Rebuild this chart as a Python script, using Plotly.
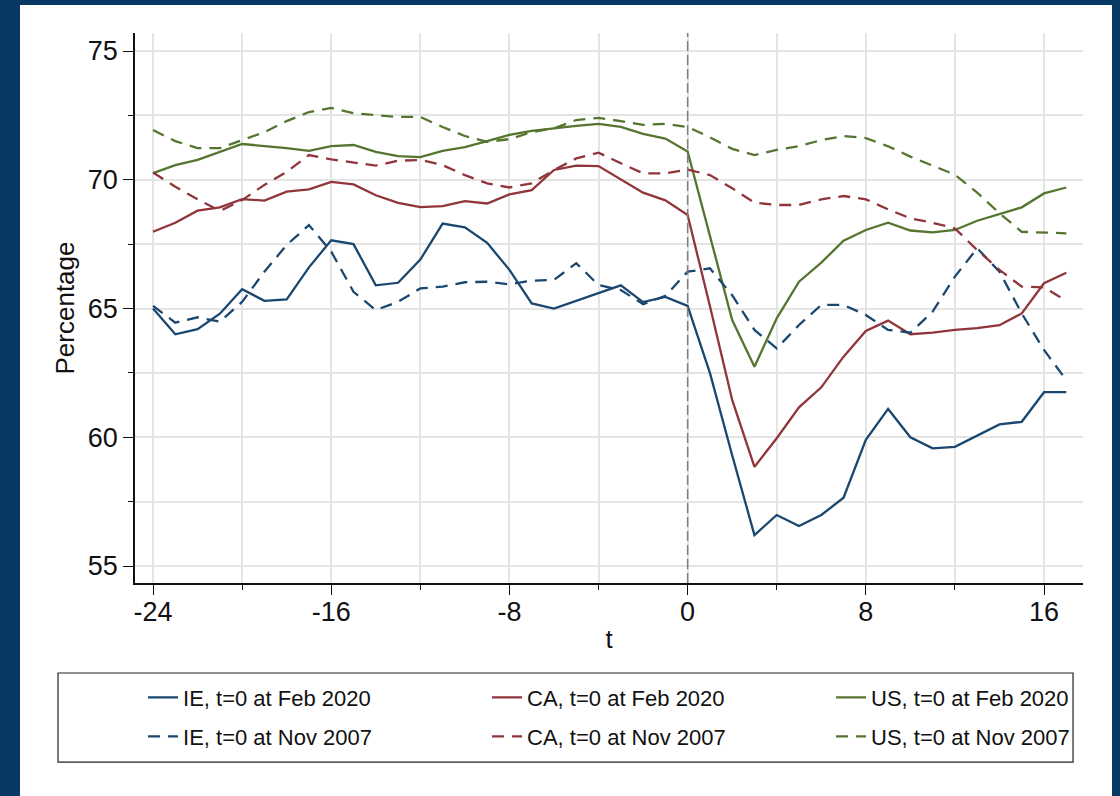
import plotly.graph_objects as go

t = list(range(-24, 18))

ie_feb2020 = [65.0, 64.0, 64.2, 64.8, 65.75, 65.3, 65.35, 66.6, 67.65, 67.5, 65.9, 66.0, 66.9, 68.3,
              68.15, 67.55, 66.5, 65.2, 65.0, 65.3, 65.6, 65.9, 65.25, 65.45, 65.1,
              62.5, 59.3, 56.2, 56.98, 56.55, 56.98, 57.65, 59.9, 61.1, 60.0, 59.57, 59.63, 60.05,
              60.5, 60.6, 61.75, 61.75]
ca_feb2020 = [67.98, 68.33, 68.8, 68.93, 69.25, 69.19, 69.54, 69.63, 69.92, 69.82, 69.4, 69.1, 68.94,
              68.98, 69.17, 69.08, 69.43, 69.6, 70.38, 70.55, 70.53, 70.02, 69.5, 69.2, 68.63,
              65.1, 61.45, 58.85, 59.96, 61.16, 61.94, 63.13, 64.13, 64.53, 64.0, 64.06, 64.17,
              64.24, 64.35, 64.81, 65.98, 66.39]
us_feb2020 = [70.26, 70.57, 70.77, 71.08, 71.39, 71.31, 71.23, 71.12, 71.31, 71.35, 71.08, 70.92,
              70.88, 71.12, 71.27, 71.5, 71.74, 71.9, 72.0, 72.09, 72.17, 72.05, 71.78, 71.6, 71.1,
              67.85, 64.55, 62.74, 64.62, 66.04, 66.78, 67.63, 68.05, 68.33, 68.03, 67.96, 68.05,
              68.41, 68.67, 68.93, 69.47, 69.7]
ie_nov2007 = [65.1, 64.45, 64.66, 64.49, 65.26, 66.43, 67.47, 68.24, 67.21, 65.65, 64.94, 65.26,
              65.78, 65.85, 66.02, 66.04, 65.94, 66.08, 66.11, 66.76, 65.91, 65.72, 65.17, 65.49,
              66.43, 66.56, 65.52, 64.17, 63.45, 64.36, 65.14, 65.14, 64.75, 64.17, 64.06, 64.88,
              66.24, 67.34, 66.43, 64.81, 63.39, 62.22]
ca_nov2007 = [70.28, 69.73, 69.24, 68.79, 69.21, 69.8, 70.31, 70.96, 70.79, 70.66, 70.55, 70.74,
              70.77, 70.57, 70.18, 69.86, 69.7, 69.86, 70.38, 70.83, 71.05, 70.64, 70.25, 70.25,
              70.4, 70.18, 69.67, 69.11, 69.02, 69.02, 69.24, 69.37, 69.24, 68.85, 68.5, 68.33,
              68.11, 67.27, 66.5, 65.85, 65.82, 65.3]
us_nov2007 = [71.93, 71.5, 71.23, 71.23, 71.54, 71.85, 72.28, 72.63, 72.79, 72.59, 72.51, 72.44,
              72.44, 72.05, 71.7, 71.47, 71.58, 71.85, 72.0, 72.32, 72.4, 72.28, 72.13, 72.17, 72.05,
              71.65, 71.2, 70.96, 71.16, 71.31, 71.54, 71.7, 71.62, 71.3, 70.9, 70.55, 70.2, 69.5,
              68.7, 67.98, 67.94, 67.92]

names_feb = ["IE, t=0 at Feb 2020", "CA, t=0 at Feb 2020", "US, t=0 at Feb 2020"]
names_nov = ["IE, t=0 at Nov 2007", "CA, t=0 at Nov 2007", "US, t=0 at Nov 2007"]
colors = ["#1a476f", "#90353b", "#55752f"]
event_t = 0

x_ticks = [-24, -16, -8, 0, 8, 16]
x_tick_labels = ["-24", "-16", "-8", "0", "8", "16"]
y_ticks = [55, 60, 65, 70, 75]
y_tick_labels = ["55", "60", "65", "70", "75"]

FONT = "Liberation Sans, Arial, sans-serif"
NAVY = "#083864"

fig = go.Figure()
for name, ys, c in zip(names_feb, [ie_feb2020, ca_feb2020, us_feb2020], colors):
    fig.add_trace(go.Scatter(x=t, y=ys, mode="lines", name=name, legend="legend",
                             line=dict(color=c, width=2.3)))
for name, ys, c in zip(names_nov, [ie_nov2007, ca_nov2007, us_nov2007], colors):
    fig.add_trace(go.Scatter(x=t, y=ys, mode="lines", name=name, legend="legend2",
                             line=dict(color=c, width=2.3, dash="12px,8px")))

fig.add_shape(type="line", xref="x", yref="paper", x0=event_t, x1=event_t, y0=0, y1=1,
              line=dict(color="#7f7f7f", width=1.5, dash="10px,4px"), layer="above")

# white graph region over navy page background
fig.add_shape(type="rect", xref="paper", yref="paper", x0=-0.1213, x1=1.0306, y0=-0.45, y1=1.0509,
              fillcolor="white", line=dict(width=0), layer="below")
# legend frame
fig.add_shape(type="rect", xref="paper", yref="paper", x0=-0.0812, x1=0.9895, y0=-0.3255, y1=-0.1636,
              fillcolor="rgba(0,0,0,0)", line=dict(color="#222222", width=1.2), layer="above")

legend_common = dict(orientation="h", xanchor="left", yanchor="middle", bgcolor="rgba(0,0,0,0)",
                     borderwidth=0, entrywidth=290, entrywidthmode="pixels", indentation=9,
                     font=dict(family=FONT, size=22, color="#111111"))

fig.update_layout(
    width=1120, height=796,
    paper_bgcolor=NAVY, plot_bgcolor="white",
    margin=dict(l=135, r=37, t=33, b=213, autoexpand=False),
    font=dict(family=FONT, color="#111111"),
    legend=dict(x=-0.001, y=-0.2085, **legend_common),
    legend2=dict(x=-0.001, y=-0.2793, **legend_common),
    xaxis=dict(range=[-24.81, 17.75], tickvals=x_ticks, ticktext=x_tick_labels, ticks="outside",
               ticklen=10, tickwidth=1.3, ticklabelstandoff=-6,
               tickcolor="#111111", showline=True, linecolor="#111111", linewidth=1.5,
               showgrid=True, gridcolor="#e4e4e4", gridwidth=1.5, zeroline=False,
               minor=dict(dtick=4, tick0=0, ticks="outside", ticklen=5, tickcolor="#111111",
                          showgrid=True, gridcolor="#e4e4e4", gridwidth=1.5),
               tickfont=dict(size=27), title=dict(text="t", font=dict(size=26), standoff=4)),
    yaxis=dict(range=[54.34, 75.70], tickvals=y_ticks, ticktext=y_tick_labels, ticks="outside",
               ticklen=10, tickwidth=1.3,
               tickcolor="#111111", showline=True, linecolor="#111111", linewidth=1.5,
               showgrid=True, gridcolor="#e4e4e4", gridwidth=1.5, zeroline=False,
               minor=dict(dtick=2.5, tick0=0, ticks="outside", ticklen=5, tickcolor="#111111",
                          showgrid=True, gridcolor="#e4e4e4", gridwidth=1.5),
               tickfont=dict(size=27), title=dict(text="Percentage", font=dict(size=26), standoff=6)),
)

fig.write_html("out.html", config={"displayModeBar": False},
               post_script="document.body.style.margin='0';document.body.style.background='%s';" % NAVY)
